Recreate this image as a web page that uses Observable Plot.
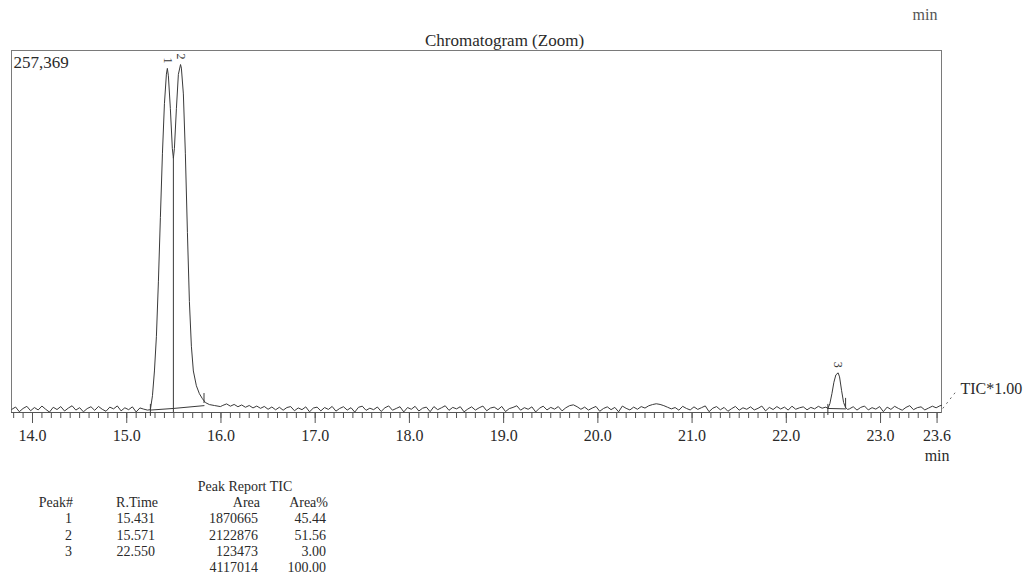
<!DOCTYPE html>
<html><head><meta charset="utf-8">
<script src="https://cdn.jsdelivr.net/npm/d3@7"></script>
<script src="https://cdn.jsdelivr.net/npm/@observablehq/plot@0.6"></script>
<style>
body{margin:0;background:#fff;font-family:"Liberation Serif","Times New Roman",serif;color:#2a2a2a}
#wrap{position:relative;width:1027px;height:575px;overflow:hidden;background:#fff}
#chart{position:absolute;left:0;top:0}
.c{position:absolute;font-size:14px;line-height:16px;white-space:nowrap;text-align:right;width:120px}
.t{position:absolute;font-size:14px;line-height:16px;white-space:nowrap;text-align:center;width:200px}
</style></head><body>
<div id="wrap"><div id="chart"></div><div id="table"></div></div>
<script>
// ---- scales / ticks
const xDomain = [13.777, 23.647];
const yDomain = [-1500, 267800];
const majorTicks = [14.0, 15.0, 16.0, 17.0, 18.0, 19.0, 20.0, 21.0, 22.0, 23.0, 23.6];
const minorTicks = d3.range(138, 237).map(d => d / 10);

// ---- trace: baseline noise before the first peaks (sampled every 0.04 min)
const noiseStep = 0.04;
const noiseAStart = 13.78;
const noiseAValues = [800, 2600, -900, 1500, 3100, -200, 2200, 400, 3300, 900,
  -1200, 2400, 700, 2900, -400, 1800, 3500, 300, 2100, -1000,
  1400, 2800, 100, 3000, 900, -600, 2500, 1200, 3400, -300,
  2000, 600, 2700, -1100, 1900, 1000, 300];
// ---- peaks 1 and 2
const peakTimes = [15.251, 15.273, 15.294, 15.315, 15.336, 15.357, 15.379, 15.400, 15.421, 15.431,
  15.442, 15.463, 15.484, 15.495, 15.506, 15.527, 15.548, 15.571, 15.580, 15.601, 15.622, 15.644,
  15.665, 15.686, 15.707, 15.739, 15.771, 15.803, 15.835, 15.877, 15.930, 15.994];
const peakValues = [600, 11000, 29400, 55200, 95700, 143500, 191400, 228200, 250200, 254500,
  249000, 224500, 195000, 187700, 195000, 224500, 250000, 257369, 254700, 235500, 191400, 132500,
  81000, 47800, 29400, 18400, 12500, 8800, 5900, 4400, 3700, 2900];
// ---- noise between peak 2 and peak 3
const noiseBStart = 16.02;
const noiseBValues = [
  3800, 4900, 3200, 4500, 2800, 4100, 2400, 3700, 1900, 3300,
  1600, 3000, 900, 2600, 500, 2400, 200, 2200, 2900, -200,
  1900, 600, 2700, -1000, 1800, 2500, -300, 2200, 800, 3000,
  -500, 1500, 2800, 300, 2100, -1200, 2400, 3200, 100, 1700,
  600, 2600, -700, 2000, 3400, 200, 1500, 2800, -1100, 2200,
  900, 3100, -400, 1700, 2500, -900, 2900, 600, 2000, 3500,
  100, 2300, 1200, 2800, -1000, 1100, 2700, 300, 2000, 3300,
  -200, 1800, 2500, 600, 3000, -800, 1400, 2300, 3500, 200,
  2100, 900, 2700, -1100, 1700, 3200, 400, 2300, 1000, 2900,
  -300, 2000, 3600, 4200, 2800, 900, 2500, 300, 1800, 3000,
  -600, 1500, 2700, 600, 2300, -1000, 3300, 1600, 400, 2500,
  900, 2900, 1800, 3500, 4400, 5000, 4500, 3600, 2400, 1200,
  2200, 200, 3100, 1500, 400, 2700, 800, 2100, 3400, -900,
  1700, 2900, 500, 2300, -600, 1400, 3000, 200, 2000, 900,
  2700, 400, 1600, 3300, -300, 2300, 700, 2900, 1100, 2500,
  300, 3200, 900, 2000, 2700, 500, 2300, 1200, 3100, 1700,
  2500];
// ---- peak 3
const peak3Times = [22.441, 22.462, 22.484, 22.505, 22.526, 22.550, 22.565, 22.587, 22.608, 22.629, 22.650];
const peak3Values = [1500, 5000, 12500, 21000, 26500, 28000, 25000, 14700, 5900, 2200, 800];
// ---- noise after peak 3
const noiseCStart = 22.67;
const noiseCValues = [1200, 2800, 300, 2300, 3300, 400, 2100, 1000, 2900, -900,
  2500, 800, 3100, 1500, 200, 2300, 3600, 600, 2100, 2700, 400, 1800, 3200, 2000, 3500];
const endTime = 23.647, endValue = 3800;

// ---- integration baselines, drop line, peak boundary marks, peak labels
const base12Times = [15.251, 15.495, 15.82];
const base12Values = [300, 1500, 3600];
const base3Times = [22.441, 22.629];
const base3Values = [1500, 1200];
const dropTime = 15.495, dropTop = 187700;
const markTimes = [15.251, 15.82, 22.441, 22.629];
const markTop = [4500, 12600, 4500, 9000];
const markBottom = [-4400, 5200, -3700, 1500];
const peakLabels = ["1", "2", "3"];
const peakLabelTimes = [15.431, 15.571, 22.550];
const peakLabelValues = [254500, 257369, 28000];

// ---- report table
const tableTitle = "Peak Report TIC";
const tableHeaders = ["Peak#", "R.Time", "Area", "Area%"];
const peakNumbers = ["1", "2", "3"];
const retentionTimes = ["15.431", "15.571", "22.550"];
const areas = ["1870665", "2122876", "123473"];
const areaPercents = ["45.44", "51.56", "3.00"];
const totalArea = "4117014";
const totalPercent = "100.00";

// build trace
const trace = [];
noiseAValues.forEach((v, i) => trace.push({t: noiseAStart + i * noiseStep, v}));
peakTimes.forEach((t, i) => trace.push({t, v: peakValues[i]}));
noiseBValues.forEach((v, i) => trace.push({t: noiseBStart + i * noiseStep, v}));
peak3Times.forEach((t, i) => trace.push({t, v: peak3Values[i]}));
noiseCValues.forEach((v, i) => trace.push({t: noiseCStart + i * noiseStep, v}));
trace.push({t: endTime, v: endValue});

const base12 = base12Times.map((t, i) => ({t, v: base12Values[i]}));
const base3 = base3Times.map((t, i) => ({t, v: base3Values[i]}));
const marks = markTimes.map((t, i) => ({t, y1: markTop[i], y2: markBottom[i]}));
const labels = peakLabels.map((s, i) => ({s, t: peakLabelTimes[i], v: peakLabelValues[i]}));

const ink = "#3a3a3a";
const chart = Plot.plot({
  width: 1027, height: 470,
  marginTop: 50, marginBottom: 58, marginLeft: 11, marginRight: 86,
  x: {domain: xDomain, label: null},
  y: {domain: yDomain, axis: null},
  style: {fontFamily: "Liberation Serif, Times New Roman, serif", fontSize: "16px", color: "#2a2a2a", background: "white", overflow: "visible"},
  marks: [
    Plot.frame({stroke: "#7a7a7a"}),
    Plot.ruleY([yDomain[0]], {stroke: "#555"}),
    Plot.axisX(minorTicks, {tickSize: 6, tickFormat: () => "", stroke: "#555"}),
    Plot.axisX(majorTicks, {tickSize: 11, tickPadding: 6, tickFormat: d => d.toFixed(1), stroke: "#555", fill: "#2a2a2a", fontSize: 16}),
    Plot.line(trace, {x: "t", y: "v", stroke: ink, strokeWidth: 1}),
    Plot.line(base12, {x: "t", y: "v", stroke: ink, strokeWidth: 1}),
    Plot.line(base3, {x: "t", y: "v", stroke: ink, strokeWidth: 1}),
    Plot.ruleX([dropTime], {y1: dropTop, y2: yDomain[0], stroke: ink, strokeWidth: 1}),
    Plot.ruleX(marks, {x: "t", y1: "y1", y2: "y2", stroke: ink, strokeWidth: 1}),
    Plot.text(labels, {x: "t", y: "v", text: "s", rotate: 90, dy: -8, fontSize: 12, fill: "#333"}),
    Plot.text(["Chromatogram (Zoom)"], {frameAnchor: "top", lineAnchor: "middle", dx: 28, dy: -10, fontSize: 17}),
    Plot.text(["257,369"], {frameAnchor: "top-left", lineAnchor: "middle", textAnchor: "start", dx: 2, dy: 12, fontSize: 17}),
    Plot.text(["min"], {frameAnchor: "top-right", lineAnchor: "middle", textAnchor: "end", dx: -4, dy: -36, fontSize: 16, fill: "#555"}),
    Plot.text(["min"], {x: [23.6], y: [yDomain[0]], dy: 43, fontSize: 16}),
    Plot.link([0], {x1: [23.66], y1: [1500], x2: [23.80], y2: [14000], stroke: "#666", strokeDasharray: "2,4"}),
    Plot.text(["TIC*1.00"], {x: [xDomain[1]], y: [yDomain[0]], dx: 19, dy: -24, textAnchor: "start", fontSize: 16})
  ]
});
document.getElementById("chart").appendChild(chart);

// table
const tbl = document.getElementById("table");
function cell(text, right, centerY, cls = "c") {
  const d = document.createElement("div");
  d.className = cls;
  d.textContent = text;
  if (cls === "c") d.style.left = (right - 120) + "px";
  else d.style.left = (right - 100) + "px";
  d.style.top = (centerY - 8) + "px";
  tbl.appendChild(d);
}
cell(tableTitle, 245, 487, "t");
const headerRight = [73, 158, 260, 328];
const valueRight = [72, 155, 258, 326];
tableHeaders.forEach((h, i) => cell(h, headerRight[i], 503));
const rowY = [519, 536, 552];
peakNumbers.forEach((p, r) => {
  cell(p, valueRight[0], rowY[r]);
  cell(retentionTimes[r], valueRight[1], rowY[r]);
  cell(areas[r], valueRight[2], rowY[r]);
  cell(areaPercents[r], valueRight[3], rowY[r]);
});
cell(totalArea, valueRight[2], 568);
cell(totalPercent, valueRight[3], 568);
</script>
</body></html>
